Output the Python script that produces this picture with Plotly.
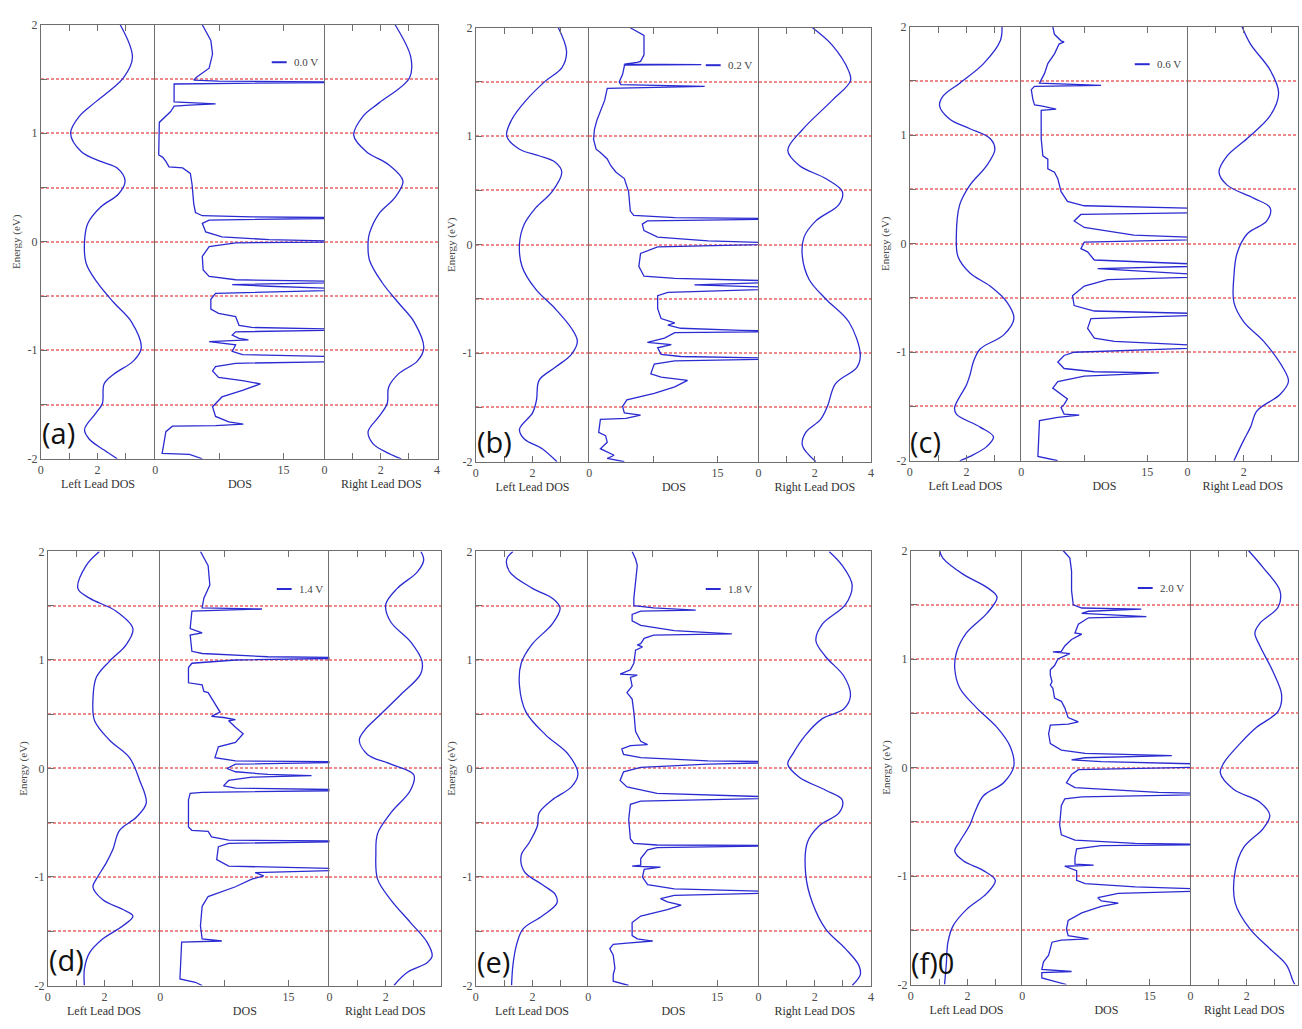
import plotly.graph_objects as go

W, H = 1302, 1029

# ---------------- data ----------------
BIAS_LABELS = ["0.0 V", "0.2 V", "0.6 V", "1.4 V", "1.8 V", "2.0 V"]
PANEL_TAGS = ["(a)", "(b)", "(c)", "(d)", "(e)", "(f)0"]
SUB_TITLES = ["Left Lead DOS", "DOS", "Right Lead DOS"]
Y_TITLE = "Energy (eV)"
Y_TICKS = [-2, -1.5, -1, -0.5, 0, 0.5, 1, 1.5, 2]
Y_TICKTEXT = ["-2", "", "-1", "", "0", "", "1", "", "2"]
LEAD_TICKS = [0, 1, 2, 3, 4]
LEAD_TICKTEXT_LEFT = ["0", "", "2", "", ""]
LEAD_TICKTEXT_RIGHT = ["0", "", "2", "", "4"]
DOS_TICKS = [0, 7.5, 15]
DOS_TICKTEXT = ["0", "", "15"]

# ----- (a) 0.0 V -----
A_LEFT_E = [2.0, 1.70, 1.51, 1.28, 1.16, 1.00, 0.83, 0.74, 0.68, 0.56, 0.44, 0.32, 0.17, 0.0, -0.20, -0.38,
            -0.56, -0.74, -0.98, -1.10, -1.22, -1.31, -1.49, -1.58, -1.73, -1.82, -1.92, -2.0]
A_LEFT_V = [2.80, 3.23, 2.91, 1.89, 1.37, 1.05, 1.43, 2.11, 2.69, 2.97, 2.74, 2.11, 1.66, 1.54, 1.60, 2.0,
            2.57, 3.2, 3.54, 3.26, 2.57, 2.23, 2.17, 1.94, 1.54, 1.71, 2.23, 2.69]
A_RIGHT_E = [2.0, 1.70, 1.51, 1.28, 1.16, 0.98, 0.83, 0.71, 0.56, 0.41, 0.26, 0.08, 0.0, -0.17, -0.38, -0.56,
             -0.74, -0.98, -1.10, -1.22, -1.34, -1.49, -1.61, -1.75, -1.86, -1.95, -2.0]
A_RIGHT_V = [2.51, 3.07, 3.02, 1.94, 1.38, 1.04, 1.49, 2.28, 2.79, 2.51, 1.94, 1.60, 1.55, 1.60, 2.06, 2.62,
             3.19, 3.53, 3.30, 2.62, 2.28, 2.23, 1.94, 1.55, 1.72, 2.28, 2.73]
A_DOS_E = [2.0, 1.855, 1.73, 1.60, 1.52, 1.49, 1.48, 1.47, 1.46, 1.454, 1.29, 1.28, 1.27, 1.26, 1.25, 1.20,
           1.13, 1.10, 0.80, 0.78, 0.74, 0.69, 0.68, 0.63, 0.53, 0.35, 0.27, 0.24, 0.23, 0.22, 0.20, 0.17,
           0.09, 0.045, 0.02, 0.0, -0.01, -0.045, -0.135, -0.26, -0.32, -0.35, -0.37, -0.395, -0.41, -0.44,
           -0.475, -0.53, -0.62, -0.66, -0.69, -0.77, -0.79, -0.81, -0.83, -0.86, -0.89, -0.905, -0.92,
           -0.95, -1.01, -1.04, -1.065, -1.10, -1.12, -1.15, -1.19, -1.25, -1.28, -1.31, -1.37, -1.43,
           -1.52, -1.61, -1.66, -1.68, -1.695, -1.70, -1.75, -1.92, -1.95, -1.96, -2.0]
A_DOS_V = [5.5, 6.5, 6.7, 6.3, 4.9, 4.5, 7.4, 25, 9.4, 2.2, 2.2, 4.0, 7.05, 4.0, 2.2, 1.8,
           0.85, 0.47, 0.4, 0.85, 1.24, 1.6, 3.2, 4.1, 4.3, 4.5, 4.7, 5.5, 11.3, 25, 6.3, 5.5,
           5.9, 7.8, 13.3, 25, 9.4, 6.3, 5.5, 5.6, 6.3, 9.4, 25, 9.0, 13.3, 25,
           7.05, 6.5, 6.5, 7.4, 9.4, 9.8, 11.3, 25, 9.4, 9.0, 9.8, 10.9, 6.3,
           9.4, 9.0, 10.2, 25, 25, 9.4, 7.05, 6.7, 7.4, 10.2, 12.3, 10.2, 7.8,
           6.7, 7.05, 8.6, 10.3, 7.05, 2.0, 1.24, 0.85, 0.8, 4.0, 5.5]

# ----- (b) 0.2 V -----
B_LEFT_E = [2.0, 1.78, 1.63, 1.51, 1.33, 1.15, 1.0, 0.88, 0.82, 0.76, 0.67, 0.49, 0.34, 0.19, 0.01, -0.20,
            -0.41, -0.59, -0.77, -0.89, -1.01, -1.13, -1.25, -1.43, -1.55, -1.70, -1.79, -1.88, -2.0]
B_LEFT_V = [2.91, 3.2, 3.03, 2.46, 1.77, 1.26, 1.09, 1.54, 2.23, 2.8, 3.03, 2.69, 2.11, 1.71, 1.54, 1.63,
            2.11, 2.8, 3.37, 3.58, 3.37, 2.8, 2.23, 2.14, 2.0, 1.54, 1.71, 2.34, 2.86]
B_RIGHT_E = [2.0, 1.84, 1.60, 1.51, 1.33, 1.06, 0.87, 0.73, 0.61, 0.49, 0.37, 0.22, 0.07, -0.11, -0.32, -0.50,
             -0.71, -1.01, -1.13, -1.28, -1.49, -1.61, -1.73, -1.85, -2.0]
B_RIGHT_V = [1.92, 2.62, 3.21, 3.27, 2.62, 1.56, 1.04, 1.45, 2.39, 2.98, 2.86, 2.04, 1.62, 1.56, 1.8, 2.39,
             3.21, 3.62, 3.5, 2.74, 2.45, 2.21, 1.68, 1.56, 2.04]
B_DOS_E = [2.0, 1.93, 1.75, 1.69, 1.68, 1.665, 1.66, 1.655, 1.645, 1.57, 1.50, 1.475, 1.46, 1.445, 1.44, 1.33,
           1.27, 1.24, 1.15, 1.06, 0.97, 0.88, 0.85, 0.79, 0.73, 0.67, 0.61, 0.49, 0.31, 0.27, 0.25, 0.24,
           0.22, 0.19, 0.13, 0.07, 0.035, 0.01, -0.02, -0.08, -0.20, -0.29, -0.31, -0.34, -0.37, -0.40,
           -0.44, -0.47, -0.59, -0.68, -0.72, -0.74, -0.77, -0.79, -0.80, -0.81, -0.86, -0.90, -0.92, -0.95,
           -1.01, -1.03, -1.05, -1.07, -1.10, -1.19, -1.22, -1.25, -1.31, -1.37, -1.43, -1.49, -1.55, -1.57,
           -1.60, -1.61, -1.73, -1.76, -1.82, -1.88, -1.91, -1.94, -1.97, -2.0]
B_DOS_V = [4.8, 6.4, 6.4, 6.0, 5.6, 4.1, 13.1, 4.1, 4.1, 3.9, 3.5, 3.7, 13.5, 2.9, 2.1, 1.8,
           1.5, 1.3, 0.9, 0.6, 0.5, 0.8, 1.3, 2.1, 2.5, 3.1, 4.1, 4.6, 4.8, 5.2, 10, 25,
           6.8, 6.2, 6.4, 8.0, 13.9, 25, 8.0, 6.0, 5.8, 6.4, 10, 25, 12.3, 25,
           9.2, 8.0, 8.0, 8.4, 10, 9.2, 10.7, 17.8, 25, 10, 8.8, 6.8, 9.6, 8.0,
           8.4, 10.7, 25, 10, 7.6, 7.2, 8.4, 11.5, 10, 7.6, 4.4, 3.9, 4.1, 6.0,
           4.3, 1.3, 1.1, 1.9, 2.1, 1.3, 2.1, 2.9, 2.1, 4.1]

# ----- (c) 0.6 V -----
C_LEFT_E = [2.0, 1.87, 1.66, 1.48, 1.36, 1.27, 1.15, 1.06, 0.97, 0.87, 0.72, 0.54, 0.36, 0.06, -0.12, -0.27,
            -0.39, -0.54, -0.69, -0.84, -0.97, -1.09, -1.21, -1.30, -1.51, -1.57, -1.69, -1.78, -1.87, -1.96, -2.0]
C_LEFT_V = [3.25, 3.19, 2.6, 1.76, 1.17, 1.05, 1.4, 2.12, 2.83, 3.0, 2.71, 2.12, 1.76, 1.64, 1.70, 2.12,
            2.83, 3.43, 3.67, 3.31, 2.48, 2.24, 2.12, 2.0, 1.58, 1.64, 2.48, 2.95, 2.71, 2.12, 1.76]
C_RIGHT_E = [2.0, 1.84, 1.60, 1.39, 1.18, 0.97, 0.81, 0.66, 0.54, 0.42, 0.33, 0.21, 0.09, -0.09, -0.30, -0.54,
             -0.72, -0.90, -1.15, -1.27, -1.39, -1.54, -1.69, -1.81, -2.0]
C_RIGHT_V = [1.94, 2.24, 2.94, 3.24, 2.94, 2.12, 1.41, 1.12, 1.41, 2.35, 2.94, 2.82, 2.12, 1.76, 1.65, 1.65,
             2.0, 2.71, 3.41, 3.59, 3.29, 2.47, 2.24, 2.0, 1.65]
C_DOS_E = [2.0, 1.93, 1.87, 1.86, 1.84, 1.75, 1.66, 1.57, 1.51, 1.48, 1.46, 1.45, 1.42, 1.33, 1.28, 1.27,
           1.24, 1.23, 0.97, 0.81, 0.78, 0.69, 0.66, 0.60, 0.48, 0.39, 0.35, 0.32, 0.29, 0.27, 0.21, 0.15,
           0.08, 0.045, 0.015, -0.045, -0.075, -0.15, -0.20, -0.23, -0.30, -0.33, -0.39, -0.48, -0.57,
           -0.62, -0.65, -0.69, -0.78, -0.87, -0.90, -0.95, -1.0, -1.03, -1.09, -1.15, -1.18, -1.19, -1.22,
           -1.27, -1.33, -1.39, -1.43, -1.48, -1.51, -1.57, -1.58, -1.60, -1.63, -1.96, -1.99, -2.0]
C_DOS_V = [3.75, 3.95, 4.74, 5.1, 4.5, 3.95, 3.16, 2.77, 2.37, 2.17, 9.5, 1.58, 1.19, 1.38, 1.58, 2.37,
           4.15, 2.37, 2.37, 2.57, 3.16, 3.16, 3.95, 4.35, 4.74, 5.5, 7.5, 25, 25, 7.1, 6.3, 7.5,
           13.4, 25, 7.5, 7.1, 7.9, 8.7, 25, 9.1, 25, 10.3, 7.5, 6.1, 6.3,
           8.7, 25, 8.3, 7.9, 8.7, 11.1, 25, 6.3, 5.1, 4.35, 5.1, 8.7, 16.4, 7.5,
           4.35, 3.75, 4.74, 5.5, 5.1, 4.74, 5.1, 6.9, 4.35, 2.17, 1.98, 3.95, 4.35]

# ----- (d) 1.4 V -----
D_LEFT_E = [2.0, 1.87, 1.66, 1.57, 1.45, 1.29, 1.14, 0.99, 0.84, 0.62, 0.44, 0.26, 0.10, -0.11, -0.32, -0.45,
            -0.57, -0.75, -0.87, -1.02, -1.09, -1.21, -1.30, -1.36, -1.45, -1.57, -1.70, -1.85, -2.0]
D_LEFT_V = [1.82, 1.35, 1.06, 1.47, 2.41, 3.0, 2.76, 2.18, 1.71, 1.59, 1.65, 2.18, 2.88, 3.24, 3.47, 3.12,
            2.53, 2.29, 2.06, 1.71, 1.59, 1.94, 2.65, 3.0, 2.65, 1.94, 1.47, 1.29, 1.29]
D_RIGHT_E = [2.0, 1.92, 1.81, 1.66, 1.51, 1.35, 1.17, 0.99, 0.87, 0.68, 0.50, 0.35, 0.26, 0.13, 0.04, -0.06,
             -0.20, -0.41, -0.60, -0.78, -1.02, -1.21, -1.42, -1.60, -1.73, -1.79, -1.88, -2.0]
D_RIGHT_V = [3.25, 3.35, 3.12, 2.41, 2.0, 2.18, 2.88, 3.29, 3.24, 2.53, 1.82, 1.24, 1.06, 1.35, 2.18, 3.0,
             2.88, 2.18, 1.71, 1.65, 1.71, 2.18, 2.88, 3.47, 3.65, 3.47, 2.76, 2.29]
D_DOS_E = [2.0, 1.87, 1.69, 1.57, 1.48, 1.47, 1.45, 1.29, 1.25, 1.23, 1.08, 1.06, 1.03, 1.02, 1.0, 0.97,
           0.93, 0.79, 0.77, 0.71, 0.70, 0.65, 0.59, 0.52, 0.48, 0.47, 0.45, 0.44, 0.38, 0.32, 0.24, 0.20,
           0.10, 0.07, 0.06, 0.04, 0.0, -0.03, -0.055, -0.065, -0.08, -0.11, -0.16, -0.18, -0.20, -0.22,
           -0.23, -0.29, -0.54, -0.57, -0.58, -0.63, -0.66, -0.67, -0.69, -0.72, -0.84, -0.90, -0.93, -0.96,
           -0.99, -1.02, -1.09, -1.18, -1.27, -1.45, -1.57, -1.59, -1.60, -1.94, -1.97, -2.0]
D_DOS_V = [4.7, 5.6, 5.8, 5.1, 4.9, 11.9, 3.7, 3.5, 4.9, 3.5, 3.7, 4.9, 12.6, 25, 8.8, 3.7,
           3.3, 3.3, 4.9, 5.1, 5.6, 6.0, 6.4, 7.0, 6.0, 7.4, 8.8, 8.0, 8.8, 9.7, 8.8, 6.8,
           6.4, 8.8, 25, 8.8, 7.8, 8.8, 12.6, 17.7, 10.7, 8.0, 7.4, 8.8, 25, 4.9,
           3.5, 3.3, 3.3, 3.7, 5.6, 6.0, 8.0, 25, 8.0, 6.8, 6.6, 8.0, 25, 11.1,
           12.1, 10.7, 8.8, 5.6, 4.9, 4.7, 4.9, 7.2, 2.5, 2.3, 4.1, 4.9]

# ----- (e) 1.8 V -----
E_LEFT_E = [2.0, 1.93, 1.81, 1.66, 1.57, 1.48, 1.33, 1.15, 0.97, 0.76, 0.52, 0.31, 0.13, -0.05, -0.17, -0.29,
            -0.41, -0.53, -0.68, -0.80, -0.95, -1.07, -1.16, -1.24, -1.36, -1.48, -1.63, -1.81, -2.0]
E_LEFT_V = [1.31, 1.09, 1.2, 2.0, 2.69, 2.97, 2.69, 2.0, 1.6, 1.54, 1.77, 2.46, 3.26, 3.6, 3.37, 2.69,
            2.23, 2.17, 1.89, 1.6, 1.71, 2.34, 2.8, 2.86, 2.34, 1.66, 1.43, 1.31, 1.26]
E_RIGHT_E = [2.0, 1.87, 1.69, 1.51, 1.33, 1.18, 1.03, 0.85, 0.67, 0.55, 0.46, 0.31, 0.13, 0.04, -0.08, -0.20,
             -0.29, -0.41, -0.53, -0.68, -0.98, -1.24, -1.48, -1.66, -1.81, -1.90, -2.0]
E_RIGHT_V = [2.51, 2.98, 3.33, 3.09, 2.27, 2.04, 2.39, 3.04, 3.27, 3.04, 2.27, 1.68, 1.21, 1.04, 1.45, 2.39,
             2.98, 2.86, 2.15, 1.74, 1.68, 1.92, 2.39, 3.09, 3.56, 3.62, 3.33]
E_DOS_E = [2.0, 1.93, 1.87, 1.72, 1.57, 1.50, 1.48, 1.46, 1.45, 1.42, 1.36, 1.32, 1.27, 1.24, 1.23, 1.20,
           1.15, 1.14, 1.12, 1.09, 0.97, 0.91, 0.87, 0.86, 0.84, 0.76, 0.70, 0.64, 0.52, 0.34, 0.25, 0.22,
           0.21, 0.18, 0.13, 0.10, 0.07, 0.06, 0.04, 0.01, -0.03, -0.11, -0.17, -0.23, -0.27, -0.30, -0.33,
           -0.47, -0.65, -0.69, -0.705, -0.71, -0.73, -0.75, -0.83, -0.89, -0.90, -0.91, -0.93, -1.0, -1.07,
           -1.11, -1.14, -1.17, -1.20, -1.23, -1.26, -1.30, -1.36, -1.42, -1.54, -1.57, -1.59, -1.61, -1.62,
           -1.66, -1.72, -1.84, -1.90, -1.96, -1.99, -2.0]
E_DOS_V = [5.1, 5.5, 5.7, 5.5, 5.3, 5.3, 7.6, 12.5, 6.1, 5.1, 5.1, 6.1, 10.0, 16.7, 7.6, 6.5,
           6.1, 5.7, 6.3, 5.5, 5.3, 4.9, 3.7, 5.7, 4.9, 5.1, 4.5, 5.1, 5.3, 5.5, 6.1, 6.9,
           4.9, 3.9, 4.1, 6.1, 13.9, 25, 13.9, 6.1, 4.1, 3.7, 4.5, 8.0, 25, 6.1, 4.9,
           4.7, 4.9, 5.3, 8.0, 25, 8.0, 6.9, 6.1, 6.1, 5.1, 8.4, 6.5, 6.3, 6.9,
           10.0, 25, 10.0, 8.4, 9.2, 10.8, 9.2, 6.1, 5.1, 5.1, 5.7, 7.5, 4.5, 2.9,
           2.5, 2.9, 3.1, 2.9, 2.9, 4.5, 4.7]

# ----- (f) 2.0 V -----
F_LEFT_E = [2.0, 1.93, 1.78, 1.66, 1.57, 1.42, 1.24, 1.06, 0.91, 0.73, 0.55, 0.37, 0.19, 0.01, -0.14, -0.26,
            -0.41, -0.53, -0.68, -0.77, -0.86, -0.95, -1.04, -1.16, -1.31, -1.46, -1.61, -1.82, -2.0]
F_LEFT_V = [1.01, 1.13, 1.85, 2.68, 3.04, 2.68, 1.96, 1.61, 1.55, 1.73, 2.32, 3.04, 3.51, 3.63, 3.27, 2.56,
            2.26, 2.08, 1.73, 1.55, 1.85, 2.56, 2.98, 2.68, 1.96, 1.49, 1.31, 1.25, 1.19]
F_RIGHT_E = [2.0, 1.84, 1.63, 1.48, 1.33, 1.24, 1.12, 0.88, 0.67, 0.52, 0.37, 0.22, 0.04, -0.05, -0.20, -0.32,
             -0.44, -0.56, -0.74, -0.95, -1.25, -1.49, -1.67, -1.82, -1.97, -2.0]
F_RIGHT_V = [2.06, 2.59, 3.18, 3.12, 2.47, 2.29, 2.47, 2.94, 3.24, 3.12, 2.35, 1.76, 1.18, 1.06, 1.53, 2.47,
             2.82, 2.59, 1.88, 1.59, 1.59, 2.12, 2.82, 3.41, 3.65, 3.71]
F_DOS_E = [2.0, 1.93, 1.81, 1.63, 1.50, 1.47, 1.46, 1.44, 1.42, 1.41, 1.39, 1.38, 1.32, 1.24, 1.23, 1.18,
           1.12, 1.07, 1.065, 1.05, 1.0, 0.94, 0.90, 0.85, 0.79, 0.76, 0.73, 0.64, 0.61, 0.55, 0.46, 0.42,
           0.40, 0.39, 0.31, 0.22, 0.16, 0.13, 0.11, 0.09, 0.07, 0.055, 0.025, 0.01, -0.02, -0.065, -0.14,
           -0.185, -0.20, -0.23, -0.245, -0.27, -0.29, -0.35, -0.53, -0.62, -0.67, -0.70, -0.71, -0.72,
           -0.75, -0.83, -0.89, -0.90, -0.91, -0.95, -1.04, -1.07, -1.10, -1.13, -1.16, -1.20, -1.23,
           -1.25, -1.28, -1.34, -1.41, -1.49, -1.55, -1.58, -1.59, -1.61, -1.73, -1.79, -1.86, -1.88,
           -1.89, -1.94, -1.97, -2.0]
F_DOS_V = [4.8, 5.6, 5.8, 5.8, 6.0, 7.0, 14.0, 7.8, 7.0, 9.3, 14.6, 7.8, 6.6, 6.2, 7.0, 5.8,
           5.0, 4.6, 3.6, 5.6, 4.2, 3.8, 3.3, 3.3, 3.5, 3.3, 3.6, 3.8, 4.6, 5.0, 5.4, 6.6,
           5.4, 3.3, 3.1, 3.3, 4.6, 7.4, 17.6, 7.4, 5.8, 9.3, 25, 25, 6.6, 5.8, 5.2,
           6.2, 9.3, 16, 25, 7.0, 5.0, 4.6, 4.4, 4.6, 6.2, 13.3, 25, 9.3,
           6.4, 6.2, 6.2, 8.4, 5.0, 6.4, 6.4, 7.4, 13.3, 25, 11.3, 8.9, 9.3,
           11.3, 9.3, 7.0, 5.4, 5.2, 5.4, 7.8, 4.6, 3.5, 3.1, 2.5, 2.3, 5.8,
           2.3, 2.3, 3.8, 5.2]

# ---------------- layout (pixel geometry of each panel) ----------------
# left edge, divider 1, divider 2, right edge, top, bottom
GEOM = [
    (38, 153, 323, 437, 18, 458),
    (475, 589, 759, 872, 21, 461),
    (911, 1023, 1190, 1301, 20, 460),
    (45, 158, 328, 440, 552, 992),
    (475, 588, 759, 872, 552, 992),
    (912, 1024, 1193, 1301, 551, 991),
]
TAG_POS = [(56, 431), (494, 440), (927, 440), (64, 966), (493, 968), (934, 969)]

PANELS = [
    (A_LEFT_E, A_LEFT_V, A_DOS_E, A_DOS_V, A_RIGHT_E, A_RIGHT_V),
    (B_LEFT_E, B_LEFT_V, B_DOS_E, B_DOS_V, B_RIGHT_E, B_RIGHT_V),
    (C_LEFT_E, C_LEFT_V, C_DOS_E, C_DOS_V, C_RIGHT_E, C_RIGHT_V),
    (D_LEFT_E, D_LEFT_V, D_DOS_E, D_DOS_V, D_RIGHT_E, D_RIGHT_V),
    (E_LEFT_E, E_LEFT_V, E_DOS_E, E_DOS_V, E_RIGHT_E, E_RIGHT_V),
    (F_LEFT_E, F_LEFT_V, F_DOS_E, F_DOS_V, F_RIGHT_E, F_RIGHT_V),
]

BLUE = "#2b2bd2"
FRAME = "#6e6e6e"
GRID = "#f08a8a"
SERIF = "Liberation Serif"
TICKFONT = dict(family=SERIF, size=12, color="#4a4a4a")
TITLEFONT = dict(family=SERIF, size=12, color="#333333")


def px(x):
    return x / W


def py(y):
    return 1 - y / H


fig = go.Figure()
layout = {}
shapes = []
annotations = []
n = 0
for pi, (data, geom) in enumerate(zip(PANELS, GEOM)):
    x0, d1, d2, x1, yt, yb = geom
    lE, lV, mE, mV, rE, rV = data
    subs = [
        (lV, lE, x0, d1, [0, 4 * (d1 - x0) / 114], LEAD_TICKS, LEAD_TICKTEXT_LEFT, "spline"),
        (mV, mE, d1, d2, [0, 19.8], DOS_TICKS, DOS_TICKTEXT, "linear"),
        (rV, rE, d2, x1, [0, 4 * (x1 - d2) / 113], LEAD_TICKS, LEAD_TICKTEXT_RIGHT, "spline"),
    ]
    for si, (xv, yv, a, b, rng, tv, tt, shape) in enumerate(subs):
        n += 1
        xs = "x" if n == 1 else f"x{n}"
        ys = "y" if n == 1 else f"y{n}"
        line = dict(color=BLUE, width=1.3, shape=shape)
        if shape == "spline":
            line["smoothing"] = 1.0
        fig.add_trace(go.Scatter(x=xv, y=yv, mode="lines", line=line,
                                 xaxis=xs, yaxis=ys, showlegend=False, hoverinfo="skip"))
        xa = "xaxis" if n == 1 else f"xaxis{n}"
        ya = "yaxis" if n == 1 else f"yaxis{n}"
        layout[xa] = dict(
            domain=[px(a), px(b)], anchor=ys, range=rng,
            tickmode="array", tickvals=tv, ticktext=tt,
            ticks="inside", ticklen=6, tickcolor=FRAME, mirror="ticks",
            showline=True, linecolor=FRAME, linewidth=1,
            showgrid=False, zeroline=False, tickfont=TICKFONT,
            title=dict(text=SUB_TITLES[si], font=TITLEFONT, standoff=3),
        )
        yd = dict(
            domain=[py(yb), py(yt)], anchor=xs, range=[-2, 2],
            tickmode="array", tickvals=Y_TICKS, ticktext=Y_TICKTEXT,
            showgrid=True, gridcolor=GRID, griddash="3px,2px", gridwidth=2,
            zeroline=False, showline=True, linecolor=FRAME, linewidth=1,
            mirror=(si == 2),
        )
        if si == 0:
            yd.update(ticks="inside", ticklen=6, tickcolor=FRAME, tickfont=TICKFONT,
                      showticklabels=True,
                      title=dict(text=Y_TITLE, font=dict(family=SERIF, size=11, color="#4a4a4a"),
                                 standoff=4))
        else:
            yd.update(ticks="", showticklabels=False)
        layout[ya] = yd

    # panel tag
    tx, ty = TAG_POS[pi]
    annotations.append(dict(
        x=px(tx), y=py(ty), xref="paper", yref="paper", xanchor="center", yanchor="middle",
        text=PANEL_TAGS[pi], showarrow=False,
        font=dict(family="Open Sans", size=29, color="#111111"),
    ))
    # legend entry of the DOS sub-panel
    ly = yt + 38
    shapes.append(dict(type="line", xref="paper", yref="paper",
                       x0=px(d2 - 53), x1=px(d2 - 38), y0=py(ly), y1=py(ly),
                       line=dict(color=BLUE, width=2)))
    annotations.append(dict(
        x=px(d2 - 33), y=py(ly), xref="paper", yref="paper", xanchor="left", yanchor="middle",
        text=BIAS_LABELS[pi], showarrow=False,
        font=dict(family=SERIF, size=11, color="#444444"),
    ))

fig.update_layout(
    width=W, height=H,
    margin=dict(l=0, r=0, t=0, b=0),
    paper_bgcolor="white", plot_bgcolor="white",
    annotations=annotations, shapes=shapes,
    **layout,
)

fig.write_html("out.html", config={"displayModeBar": False},
               post_script="document.body.style.margin='0';document.body.style.overflow='hidden';")
